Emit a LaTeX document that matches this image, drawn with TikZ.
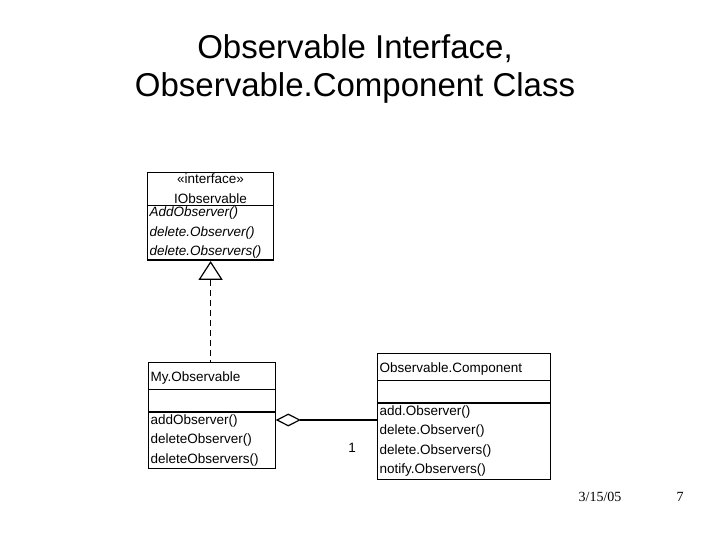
\documentclass[tikz,border=0pt]{standalone}
\usepackage{fontspec}
\setmainfont{Liberation Sans}
\newfontfamily\footfont{Liberation Serif}
\usetikzlibrary{shapes,shapes.multipart,shapes.geometric,arrows,positioning}
\tikzset{
  umlbox/.style={rectangle split, rectangle split parts=3, draw, line width=1.2pt, fill=white,
    font=\fontsize{13.5}{19.5}\selectfont, text width=#1, inner xsep=2pt, inner ysep=2pt},
  ifbox/.style={rectangle split, rectangle split parts=2, draw, line width=1.2pt, fill=white,
    font=\fontsize{13.5}{19.5}\selectfont, text width=122pt, inner xsep=2pt, inner ysep=1pt},
  realize/.style={dashed, line width=1.4pt, dash pattern=on 6pt off 4pt},
  gen/.style={isosceles triangle, shape border rotate=90, draw, line width=1.2pt, fill=white,
    minimum width=22pt, minimum height=17pt, inner sep=0pt, isosceles triangle stretches},
  aggr/.style={-, line width=1.2pt}
}
\begin{document}
\begin{tikzpicture}[x=1pt,y=-1pt]
  \useasboundingbox (0,0) rectangle (720,540);
  \node[font=\fontsize{33}{38}\selectfont, align=center] (title) at (355,69)
    {Observable Interface,\\Observable.Component Class};

  \node[ifbox, anchor=north west] (iobs) at (147,172)
    {\centering\guillemotleft interface\guillemotright\\IObservable\par
     \nodepart{two}\itshape AddObserver()\\delete.Observer()\\delete.Observers()};
  \node[umlbox=123pt, anchor=north west] (myobs) at (148,362)
    {\rule[-6pt]{0pt}{22pt}My.Observable
     \nodepart{two}\rule{0pt}{17pt}
     \nodepart{three}addObserver()\\deleteObserver()\\deleteObservers()};
  \node[umlbox=169pt, anchor=north west] (obscomp) at (377,353)
    {\rule[-6pt]{0pt}{22pt}Observable.Component
     \nodepart{two}\rule{0pt}{17pt}
     \nodepart{three}add.Observer()\\delete.Observer()\\delete.Observers()\\notify.Observers()};

  \node[gen, anchor=apex] (tri) at (iobs.south) {};
  \draw[realize] (tri.south) -- (tri.south |- myobs.north);
  \node[diamond, draw, line width=1.2pt, fill=white, minimum width=23pt, minimum height=12pt,
    inner sep=0pt, anchor=west] (dia) at (myobs.east |- 0,420) {};
  \draw[aggr] (dia.east) -- (dia.east -| obscomp.west);
  \node[font=\fontsize{13.5}{16}\selectfont] (mult) at (352,448) {1};

  \node[font=\footfont\fontsize{14}{16}\selectfont] (date) at (600,497) {3/15/05};
  \node[font=\footfont\fontsize{14}{16}\selectfont] (page) at (680,497) {7};
\end{tikzpicture}
\end{document}
